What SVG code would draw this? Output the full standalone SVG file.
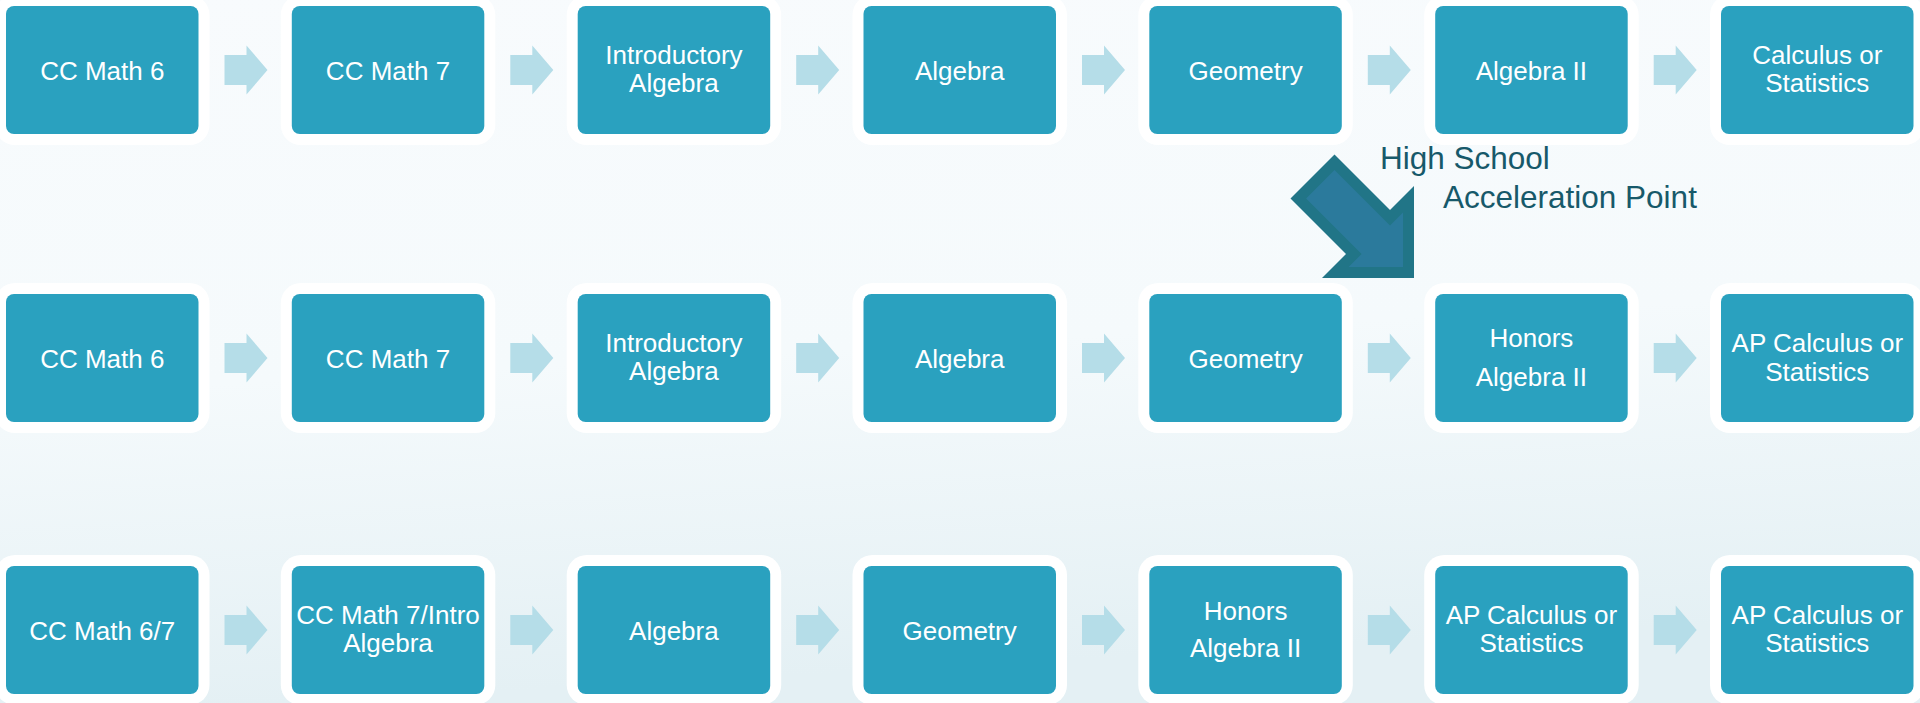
<svg xmlns="http://www.w3.org/2000/svg" xmlns:xlink="http://www.w3.org/1999/xlink" width="1920" height="703" viewBox="0 0 1920 703">
<defs>
<linearGradient id="bg" x1="0" y1="0" x2="0.15" y2="1">
<stop offset="0" stop-color="#f8fbfd"/>
<stop offset="0.55" stop-color="#f5fafc"/>
<stop offset="1" stop-color="#e4f0f4"/>
</linearGradient>
<path id="ar" d="M0,-15 H22 V-24.5 L43,0 L22,24.5 V15 H0 Z" fill="#b5dde8"/>
<style>
.frame{fill:#ffffff}
.box{fill:#2aa1bf}
.lbl{font-family:"Liberation Sans",Arial,sans-serif;font-size:26px;fill:#ffffff;text-anchor:middle}
.note{font-family:"Liberation Sans",Arial,sans-serif;font-size:31.5px;fill:#17596a}
</style>
</defs>
<rect width="1920" height="703" fill="url(#bg)"/>

<g id="connectors">
<use xlink:href="#ar" x="224.5" y="70"/><use xlink:href="#ar" x="510.3" y="70"/><use xlink:href="#ar" x="796.2" y="70"/><use xlink:href="#ar" x="1082" y="70"/><use xlink:href="#ar" x="1367.8" y="70"/><use xlink:href="#ar" x="1653.7" y="70"/>
<use xlink:href="#ar" x="224.5" y="358"/><use xlink:href="#ar" x="510.3" y="358"/><use xlink:href="#ar" x="796.2" y="358"/><use xlink:href="#ar" x="1082" y="358"/><use xlink:href="#ar" x="1367.8" y="358"/><use xlink:href="#ar" x="1653.7" y="358"/>
<use xlink:href="#ar" x="224.5" y="630"/><use xlink:href="#ar" x="510.3" y="630"/><use xlink:href="#ar" x="796.2" y="630"/><use xlink:href="#ar" x="1082" y="630"/><use xlink:href="#ar" x="1367.8" y="630"/><use xlink:href="#ar" x="1653.7" y="630"/>
</g>

<g id="accel-arrow">
<polygon points="1290.5,198.5 1334.5,154.5 1390,210 1414,186 1414,278 1322,278 1346,254" fill="#217587"/>
<polygon points="1306.1,198.5 1334.5,170.1 1390,225.6 1403,212.6 1403,267 1348.6,267 1361.6,254" fill="#2b7a9c"/>
<text class="note" x="1380" y="169">High School</text>
<text class="note" x="1443" y="208">Acceleration Point</text>
</g>

<!-- Row 1 -->
<g id="r1n1"><rect class="frame" x="-5" y="-5" width="214.5" height="150" rx="20"/><rect class="box" x="6" y="6" width="192.5" height="128" rx="8"/><text class="lbl" x="102.3" y="79.5">CC Math 6</text></g>
<g id="r1n2"><rect class="frame" x="280.8" y="-5" width="214.5" height="150" rx="20"/><rect class="box" x="291.8" y="6" width="192.5" height="128" rx="8"/><text class="lbl" x="388" y="79.5">CC Math 7</text></g>
<g id="r1n3"><rect class="frame" x="566.7" y="-5" width="214.5" height="150" rx="20"/><rect class="box" x="577.7" y="6" width="192.5" height="128" rx="8"/><text class="lbl" x="673.9" y="63.5">Introductory</text><text class="lbl" x="673.9" y="92">Algebra</text></g>
<g id="r1n4"><rect class="frame" x="852.5" y="-5" width="214.5" height="150" rx="20"/><rect class="box" x="863.5" y="6" width="192.5" height="128" rx="8"/><text class="lbl" x="959.7" y="79.5">Algebra</text></g>
<g id="r1n5"><rect class="frame" x="1138.3" y="-5" width="214.5" height="150" rx="20"/><rect class="box" x="1149.3" y="6" width="192.5" height="128" rx="8"/><text class="lbl" x="1245.6" y="79.5">Geometry</text></g>
<g id="r1n6"><rect class="frame" x="1424.2" y="-5" width="214.5" height="150" rx="20"/><rect class="box" x="1435.2" y="6" width="192.5" height="128" rx="8"/><text class="lbl" x="1531.4" y="79.5">Algebra II</text></g>
<g id="r1n7"><rect class="frame" x="1710" y="-5" width="214.5" height="150" rx="20"/><rect class="box" x="1721" y="6" width="192.5" height="128" rx="8"/><text class="lbl" x="1817.3" y="63.5">Calculus or</text><text class="lbl" x="1817.3" y="92">Statistics</text></g>

<!-- Row 2 -->
<g id="r2n1"><rect class="frame" x="-5" y="283" width="214.5" height="150" rx="20"/><rect class="box" x="6" y="294" width="192.5" height="128" rx="8"/><text class="lbl" x="102.3" y="367.5">CC Math 6</text></g>
<g id="r2n2"><rect class="frame" x="280.8" y="283" width="214.5" height="150" rx="20"/><rect class="box" x="291.8" y="294" width="192.5" height="128" rx="8"/><text class="lbl" x="388" y="367.5">CC Math 7</text></g>
<g id="r2n3"><rect class="frame" x="566.7" y="283" width="214.5" height="150" rx="20"/><rect class="box" x="577.7" y="294" width="192.5" height="128" rx="8"/><text class="lbl" x="673.9" y="351.5">Introductory</text><text class="lbl" x="673.9" y="380">Algebra</text></g>
<g id="r2n4"><rect class="frame" x="852.5" y="283" width="214.5" height="150" rx="20"/><rect class="box" x="863.5" y="294" width="192.5" height="128" rx="8"/><text class="lbl" x="959.7" y="367.5">Algebra</text></g>
<g id="r2n5"><rect class="frame" x="1138.3" y="283" width="214.5" height="150" rx="20"/><rect class="box" x="1149.3" y="294" width="192.5" height="128" rx="8"/><text class="lbl" x="1245.6" y="367.5">Geometry</text></g>
<g id="r2n6"><rect class="frame" x="1424.2" y="283" width="214.5" height="150" rx="20"/><rect class="box" x="1435.2" y="294" width="192.5" height="128" rx="8"/><text class="lbl" x="1531.4" y="347">Honors</text><text class="lbl" x="1531.4" y="385.5">Algebra II</text></g>
<g id="r2n7"><rect class="frame" x="1710" y="283" width="214.5" height="150" rx="20"/><rect class="box" x="1721" y="294" width="192.5" height="128" rx="8"/><text class="lbl" x="1817.3" y="351.5">AP Calculus or</text><text class="lbl" x="1817.3" y="380.5">Statistics</text></g>

<!-- Row 3 -->
<g id="r3n1"><rect class="frame" x="-5" y="555" width="214.5" height="150" rx="20"/><rect class="box" x="6" y="566" width="192.5" height="128" rx="8"/><text class="lbl" x="102.3" y="639.5">CC Math 6/7</text></g>
<g id="r3n2"><rect class="frame" x="280.8" y="555" width="214.5" height="150" rx="20"/><rect class="box" x="291.8" y="566" width="192.5" height="128" rx="8"/><text class="lbl" x="388" y="623.5">CC Math 7/Intro</text><text class="lbl" x="388" y="652">Algebra</text></g>
<g id="r3n3"><rect class="frame" x="566.7" y="555" width="214.5" height="150" rx="20"/><rect class="box" x="577.7" y="566" width="192.5" height="128" rx="8"/><text class="lbl" x="673.9" y="639.5">Algebra</text></g>
<g id="r3n4"><rect class="frame" x="852.5" y="555" width="214.5" height="150" rx="20"/><rect class="box" x="863.5" y="566" width="192.5" height="128" rx="8"/><text class="lbl" x="959.7" y="639.5">Geometry</text></g>
<g id="r3n5"><rect class="frame" x="1138.3" y="555" width="214.5" height="150" rx="20"/><rect class="box" x="1149.3" y="566" width="192.5" height="128" rx="8"/><text class="lbl" x="1245.6" y="619.5">Honors</text><text class="lbl" x="1245.6" y="657">Algebra II</text></g>
<g id="r3n6"><rect class="frame" x="1424.2" y="555" width="214.5" height="150" rx="20"/><rect class="box" x="1435.2" y="566" width="192.5" height="128" rx="8"/><text class="lbl" x="1531.4" y="623.5">AP Calculus or</text><text class="lbl" x="1531.4" y="652">Statistics</text></g>
<g id="r3n7"><rect class="frame" x="1710" y="555" width="214.5" height="150" rx="20"/><rect class="box" x="1721" y="566" width="192.5" height="128" rx="8"/><text class="lbl" x="1817.3" y="623.5">AP Calculus or</text><text class="lbl" x="1817.3" y="652">Statistics</text></g>
</svg>
